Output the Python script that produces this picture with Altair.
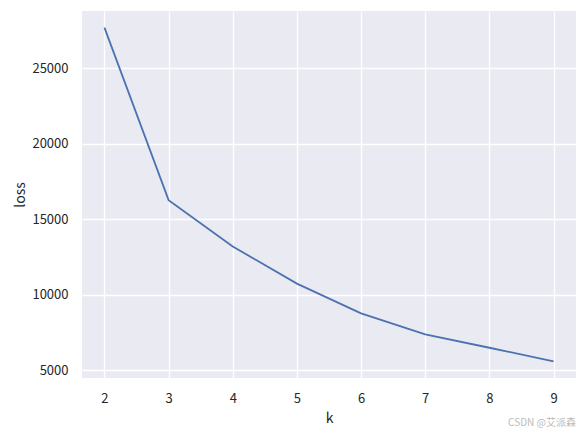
import altair as alt
import pandas as pd

k_values = [2, 3, 4, 5, 6, 7, 8, 9]
loss_values = [27700, 16270, 13200, 10740, 8770, 7370, 6490, 5590]
x_ticks = [2, 3, 4, 5, 6, 7, 8, 9]
y_ticks = [5000, 10000, 15000, 20000, 25000]

df = pd.DataFrame({"k": k_values, "loss": loss_values})

FONT = "Noto Sans CJK SC"

line = alt.Chart(df).mark_line(color="#4C72B0", strokeWidth=1.8, clip=True).encode(
    x=alt.X("k:Q", scale=alt.Scale(domain=[1.65, 9.35], nice=False, zero=False),
            axis=alt.Axis(values=x_ticks, title="k", format="d")),
    y=alt.Y("loss:Q", scale=alt.Scale(domain=[4485, 28805], nice=False, zero=False),
            axis=alt.Axis(values=y_ticks, title="loss", format="d")),
)

watermark = alt.Chart(pd.DataFrame({"t": ["CSDN @艾派森"]})).mark_text(
    align="right", baseline="middle", fontSize=10, color="#BBBBBB", font=FONT
).encode(text="t:N", x=alt.value(494), y=alt.value(412))

chart = alt.layer(line, watermark).properties(
    width=494, height=367,
    autosize=alt.AutoSizeParams(type="none"),
    padding={"left": 74, "top": 3, "right": 2, "bottom": 50},
    background="white",
).configure_view(
    fill="#EAEAF2", stroke=None
).configure_axis(
    grid=True, gridColor="white", gridWidth=1.3, domain=False, ticks=False,
    labelFont=FONT, labelFontSize=13, labelColor="#262626",
    titleFont=FONT, titleFontSize=14, titleColor="#262626", titleFontWeight="normal",
).configure_axisX(
    labelPadding=14, titlePadding=6
).configure_axisY(
    labelPadding=14, titlePadding=4
)

chart.save("out.html", embed_options={"renderer": "svg", "actions": False})
